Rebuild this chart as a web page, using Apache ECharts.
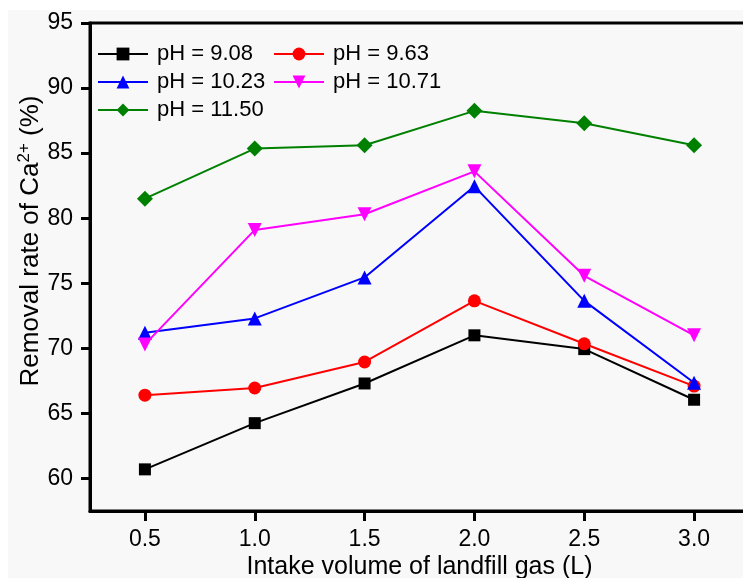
<!DOCTYPE html>
<html>
<head>
<meta charset="utf-8">
<script src="https://cdn.jsdelivr.net/npm/echarts@6/dist/echarts.min.js"></script>
<style>
html,body{margin:0;padding:0;background:#fff;}
#chart{width:743px;height:578px;}
</style>
</head>
<body>
<div id="chart"></div>
<script>
// Data
var xValues = [0.5, 1.0, 1.5, 2.0, 2.5, 3.0];
var seriesNames = ['pH = 9.08', 'pH = 9.63', 'pH = 10.23', 'pH = 10.71', 'pH = 11.50'];
var ph908 = [60.7, 64.25, 67.3, 71.0, 69.94, 66.05];
var ph963 = [66.4, 66.95, 68.95, 73.65, 70.35, 67.1];
var ph1023 = [71.2, 72.3, 75.45, 82.45, 73.65, 67.35];
var ph1071 = [70.3, 79.1, 80.3, 83.6, 75.57, 71.0];
var ph1150 = [81.5, 85.35, 85.6, 88.25, 87.3, 85.6];
var xTicks = [0.5, 1.0, 1.5, 2.0, 2.5, 3.0];
var yTicks = [60, 65, 70, 75, 80, 85, 90, 95];

var FONT = 'Liberation Sans, Arial, sans-serif';
function pairs(vals) { return xValues.map(function (x, i) { return [x, vals[i]]; }); }

var styles = [
  { color: '#000000', symbol: 'rect', size: 12 },
  { color: '#ff0000', symbol: 'circle', size: 13 },
  { color: '#0000ff', symbol: 'triangle', size: 14 },
  { color: '#ff00ff', symbol: 'path://M0,0L2,0L1,1.6Z', size: 14 },
  { color: '#008000', symbol: 'diamond', size: 16 }
];
var allData = [ph908, ph963, ph1023, ph1071, ph1150];

var series = allData.map(function (vals, i) {
  return {
    name: seriesNames[i],
    type: 'line',
    data: pairs(vals),
    symbol: styles[i].symbol,
    symbolSize: styles[i].size,
    showAllSymbol: true,
    lineStyle: { color: styles[i].color, width: 2 },
    itemStyle: { color: styles[i].color },
    z: 2 + i,
    animation: false
  };
});

var chart = echarts.init(document.getElementById('chart'), null, { renderer: 'canvas' });

var legendCommon = {
  orient: 'vertical',
  itemWidth: 50,
  itemHeight: 16,
  itemGap: 6,
  padding: 0,
  textStyle: { fontFamily: FONT, fontSize: 22, color: '#000', padding: [0, 0, 0, 4] }
};

chart.setOption({
  backgroundColor: '#ffffff',
  animation: false,
  graphic: [{
    type: 'rect', z: -10, silent: true,
    shape: { x: 8, y: 10, width: 743, height: 578 },
    style: { fill: '#f8f8f8' }
  }],
  grid: {
    left: 90, top: 23, right: -6, bottom: 67,
    outerBoundsMode: 'none',
    containLabel: false,
    show: true, borderColor: '#000', borderWidth: 3,
    backgroundColor: 'transparent'
  },
  legend: [
    Object.assign({ left: 97, top: 43, data: [seriesNames[0], seriesNames[2], seriesNames[4]] }, legendCommon),
    Object.assign({ left: 273, top: 43, data: [seriesNames[1], seriesNames[3]] }, legendCommon)
  ],
  xAxis: {
    type: 'value',
    min: 0.25, max: 3.25,
    name: 'Intake volume of landfill gas (L)',
    nameLocation: 'middle',
    nameMoveOverlap: false,
    nameGap: 44,
    nameTextStyle: { fontFamily: FONT, fontSize: 25, color: '#000' },
    axisLine: { show: true, lineStyle: { color: '#000', width: 3 } },
    axisTick: { show: true, inside: false, length: 10, lineStyle: { color: '#000', width: 3 }, customValues: xTicks },
    axisLabel: {
      fontFamily: FONT, fontSize: 23, color: '#000', margin: 17,
      customValues: xTicks,
      formatter: function (v) { return v.toFixed(1); }
    },
    splitLine: { show: false }
  },
  yAxis: {
    type: 'value',
    min: 57.5, max: 95,
    name: 'Removal rate of Ca{sup|2+} (%)',
    nameLocation: 'middle',
    nameMoveOverlap: false,
    nameGap: 45,
    nameRotate: 90,
    nameTextStyle: {
      fontFamily: FONT, fontSize: 26, color: '#000',
      padding: [0, 0, 0, 52],
      rich: {
        sup: { fontFamily: FONT, fontSize: 17, color: '#000', verticalAlign: 'top', padding: [0, 0, 12, 0] }
      }
    },
    axisLine: { show: true, lineStyle: { color: '#000', width: 3 } },
    axisTick: { show: true, inside: false, length: 9, lineStyle: { color: '#000', width: 3 }, customValues: yTicks },
    axisLabel: {
      fontFamily: FONT, fontSize: 23, color: '#000', margin: 17,
      customValues: yTicks
    },
    splitLine: { show: false }
  },
  series: series
});
</script>
</body>
</html>
